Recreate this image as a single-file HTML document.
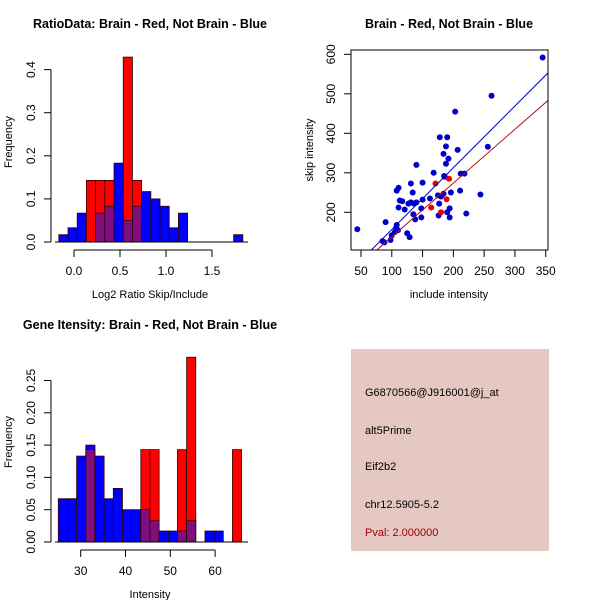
<!DOCTYPE html>
<html><head><meta charset="utf-8"><style>
html,body{margin:0;padding:0;background:#fff}
svg{display:block;font-family:"Liberation Sans",sans-serif}
</style></head><body>
<svg id="s" width="600" height="600" xmlns="http://www.w3.org/2000/svg">
<rect x="351" y="349" width="198" height="202" fill="#e6c8c2"/>
<g font-size="11">
<text x="365" y="396">G6870566@J916001@j_at</text>
<text x="365" y="434">alt5Prime</text>
<text x="365" y="470">Eif2b2</text>
<text x="365" y="508">chr12.5905-5.2</text>
<text x="365" y="536" fill="#a00000">Pval: 2.000000</text>
</g>
</svg>
<script>
// Histogram 1: Log2 ratio
const h1Start = -0.165, h1Width = 0.1;
const h1Blue = [0.017,0.033,0.067,0,0.067,0.083,0.183,0.05,0.083,0.117,0.1,0.083,0.033,0.067,0,0,0,0,0,0.017];
const h1Red  = [0,0,0,0.143,0.143,0.143,0,0.429,0.143,0,0,0,0,0,0,0,0,0,0,0];
const h1XTicks = [0,0.5,1,1.5];
const h1XLabels = ["0.0","0.5","1.0","1.5"];
const h1YTicks = [0,0.1,0.2,0.3,0.4];
const h1YLabels = ["0.0","0.1","0.2","0.3","0.4"];
// Histogram 2: Intensity
const h2Start = 25, h2Width = 2.046;
const h2Blue = [0.067,0.067,0.133,0.15,0.133,0.067,0.083,0.05,0.05,0.05,0.033,0.017,0.017,0.017,0.033,0,0.017,0.017,0,0];
const h2Red  = [0,0,0,0.143,0,0,0,0,0,0.143,0.143,0,0,0.143,0.286,0,0,0,0,0.143];
const h2XTicks = [30,40,50,60];
const h2XLabels = ["30","40","50","60"];
const h2YTicks = [0,0.05,0.1,0.15,0.2,0.25];
const h2YLabels = ["0.00","0.05","0.10","0.15","0.20","0.25"];
// Scatter
const blueInclude = [44,345,262,203,178,190,188,207,256,184,192,188,140,168,185,186,212,218,111,108,131,150,134,196,211,244,175,180,184,162,113,117,127,131,136,140,150,177,121,111,148,194,190,135,176,221,148,194,138,90,108,107,110,105,125,100,129,98,85,88];
const blueSkip    = [157,592,495,455,390,390,367,358,366,348,336,323,320,300,292,290,298,298,262,255,273,275,250,250,255,245,243,240,247,235,230,228,222,225,222,225,232,222,207,212,210,210,200,195,192,197,187,187,182,175,168,160,155,150,147,142,137,130,127,124];
const redInclude = [171,193,189,164,180];
const redSkip    = [273,285,233,212,200];
const blueFit = [0.3,1.5625];   // intercept, slope
const redFit  = [1.5,1.362];
const scXTicks = [50,100,150,200,250,300,350];
const scYTicks = [200,300,400,500,600];

const S=document.getElementById('s'), NS='http://www.w3.org/2000/svg';
function el(t,a,p){const e=document.createElementNS(NS,t);for(const k in a)e.setAttribute(k,a[k]);(p||S).appendChild(e);return e;}
function txt(x,y,s,a,p){const e=el('text',Object.assign({x:x,y:y,'font-size':11,'text-anchor':'middle'},a||{}),p);e.textContent=s;return e;}

function hist(cfg){
  const g=el('g',{});
  
  
  const X=v=>cfg.x0+(v-cfg.xv0)*cfg.xs, Y=v=>cfg.y0-v*cfg.ys;
  cfg.blue.forEach((b,i)=>{
    const r=cfg.red[i], xa=X(cfg.start+i*cfg.w), xb=X(cfg.start+(i+1)*cfg.w);
    const hi=Math.max(b,r), lo=Math.min(b,r);
    if(hi<=0)return;
    const col=b>=r?'#0000ff':'#ff0000';
    const e=el('rect',{x:xa,y:Y(hi),width:xb-xa,height:Y(0)-Y(hi),fill:col,stroke:'#300','stroke-width':0.8},g);
    
    
    if(lo>0){
      const p=el('rect',{x:xa,y:Y(lo),width:xb-xa,height:Y(0)-Y(lo),fill:'#7f0f7f',stroke:'#300','stroke-width':0.8},g);
      
      
    }
  });
  const ya=el('g',{},g);
  
  
  const yt=cfg.yt;
  el('line',{x1:cfg.x0a,x2:cfg.x0a,y1:Y(yt[0]),y2:Y(yt[yt.length-1]),stroke:'#000'},ya);
  yt.forEach((v,i)=>{el('line',{x1:cfg.x0a,x2:cfg.x0a-7,y1:Y(v),y2:Y(v),stroke:'#000'},ya);
    txt(0,0,cfg.yl[i],{transform:`translate(${cfg.x0a-16},${Y(v)}) rotate(-90)`,'font-size':12},ya);});
  const xa=el('g',{},g);
  
  
  const xt=cfg.xt, ay=cfg.y0+8;
  el('line',{x1:X(xt[0]),x2:X(xt[xt.length-1]),y1:ay,y2:ay,stroke:'#000'},xa);
  xt.forEach((v,i)=>{el('line',{x1:X(v),x2:X(v),y1:ay,y2:ay+7,stroke:'#000'},xa);txt(X(v),ay+25,cfg.xl[i],{'font-size':12},xa);});
  el('line',{x1:cfg.x0a+4,x2:248,y1:cfg.y0,y2:cfg.y0,stroke:'#000'},g);
  const t=txt(150,cfg.titleY,cfg.title,{'font-weight':'bold','font-size':12.5},g);
  
  
  const xl=txt(150,cfg.y0+56,cfg.xlab,{},g);
  
  
  const yl=txt(0,0,'Frequency',{transform:`translate(12,${cfg.y0-100}) rotate(-90)`},g);
  
  
}
hist({name:'ratio-histogram',blue:h1Blue,red:h1Red,start:h1Start,w:h1Width,x0:74,xv0:0,xs:92,y0:242,ys:431,x0a:51,
  xt:h1XTicks,xl:h1XLabels,yt:h1YTicks,yl:h1YLabels,title:'RatioData: Brain - Red, Not Brain - Blue',titleY:28,xlab:'Log2 Ratio Skip/Include'});
hist({name:'intensity-histogram',blue:h2Blue,red:h2Red,start:h2Start,w:h2Width,x0:80.7,xv0:30,xs:4.48,y0:542,ys:646,x0a:51,
  xt:h2XTicks,xl:h2XLabels,yt:h2YTicks,yl:h2YLabels,title:'Gene Itensity: Brain - Red, Not Brain - Blue',titleY:329,xlab:'Intensity'});

(function(){
  const g=el('g',{});
  
  
  const L=351,R=548,T=50,B=250;
  const X=v=>361+(v-50)*0.6157, Y=v=>212.3-(v-200)*0.395;
  const cp=el('clipPath',{id:'cp'},g);
  el('rect',{x:L,y:T,width:R-L,height:B-T},cp);
  blueInclude.forEach((v,i)=>{const c=el('circle',{cx:X(v),cy:Y(blueSkip[i]),r:3,fill:'#0000cc'},g);
    
    });
  redInclude.forEach((v,i)=>{const c=el('circle',{cx:X(v),cy:Y(redSkip[i]),r:3,fill:'#ee0000'},g);
    
    });
  [[blueFit,'#0000aa','blue-fit-line'],[redFit,'#b01010','red-fit-line']].forEach(([f,c,n])=>{
    const l=el('line',{x1:X(0),y1:Y(f[0]),x2:X(400),y2:Y(f[0]+f[1]*400),stroke:c,'stroke-width':1,'clip-path':'url(#cp)'},g);
    
    });
  el('rect',{x:L,y:T,width:R-L,height:B-T,fill:'none',stroke:'#000'},g);
  scXTicks.forEach(v=>{el('line',{x1:X(v),x2:X(v),y1:B,y2:B+7,stroke:'#000'},g);txt(X(v),B+25,String(v),{'font-size':12},g);});
  scYTicks.forEach(v=>{el('line',{x1:L,x2:L-7,y1:Y(v),y2:Y(v),stroke:'#000'},g);txt(0,0,String(v),{transform:`translate(${L-16},${Y(v)}) rotate(-90)`,'font-size':12},g);});
  const t=txt(449,28,'Brain - Red, Not Brain - Blue',{'font-weight':'bold','font-size':12.5},g);
  
  
  const xl=txt(449,298,'include intensity',{},g);
  
  
  const yl=txt(0,0,'skip intensity',{transform:'translate(313,150) rotate(-90)'},g);
  
  
})();
</script>
</body></html>
